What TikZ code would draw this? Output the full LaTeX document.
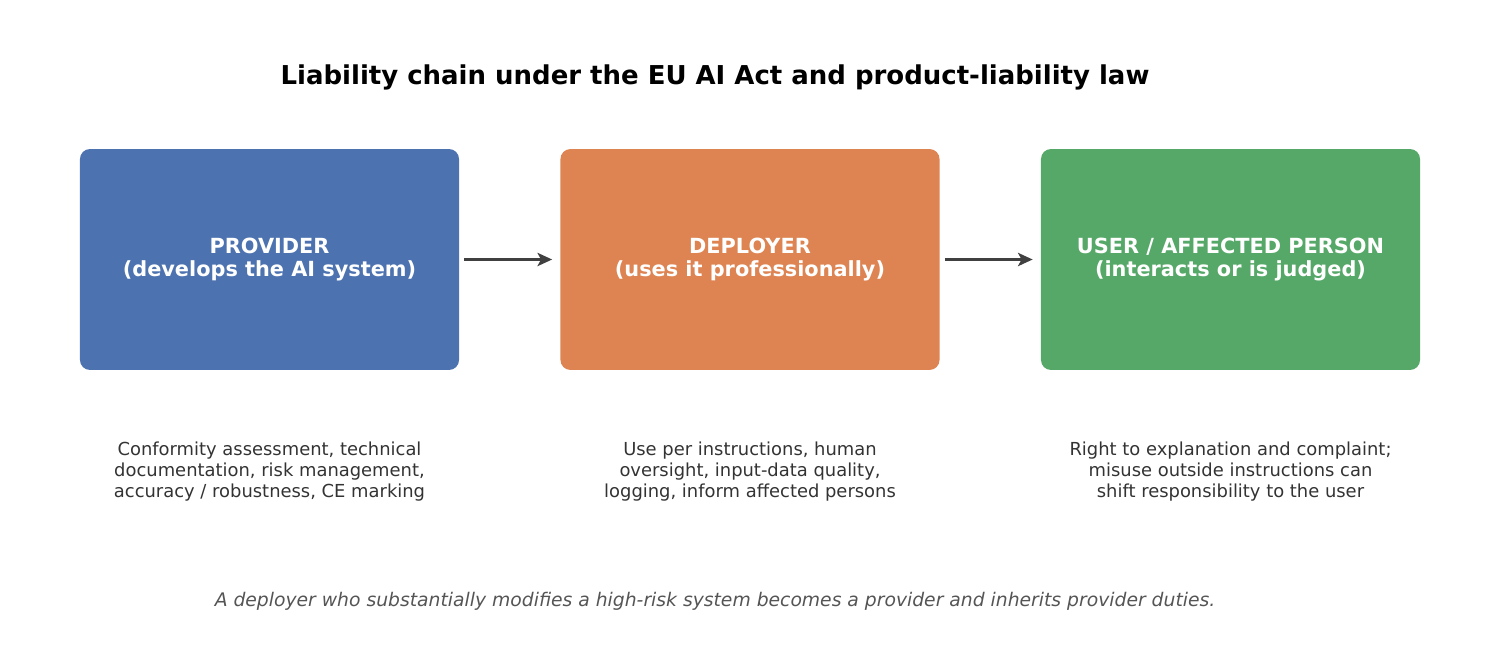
\documentclass[tikz,border=0pt]{standalone}
\usepackage{fontspec}
\setmainfont{DejaVu Sans}
\usetikzlibrary{arrows.meta}
\definecolor{provblue}{HTML}{4C72B0}
\definecolor{deplorange}{HTML}{DD8452}
\definecolor{usergreen}{HTML}{55A868}
\definecolor{arrowgray}{HTML}{404040}
\definecolor{desctext}{HTML}{333333}
\definecolor{notetext}{HTML}{555555}
\begin{document}
\begin{tikzpicture}[x=0.72bp,y=-0.72bp,
	party/.style={rounded corners=7.2bp,minimum width=272.9bp,minimum height=159.1bp,
		text=white,align=center,font=\fontsize{15bp}{16.6bp}\selectfont\bfseries},
	duty/.style={text=desctext,align=center,font=\fontsize{12.9bp}{14.8bp}\selectfont},
	pass/.style={-{Stealth[length=10.5bp,width=9.5bp,inset=2.5bp]},line width=2.4bp,color=arrowgray,
		shorten <=3.6bp,shorten >=5.8bp}]
		\useasboundingbox (0,0) rectangle (1500,660);
		\node at (715,77.5) [font=\fontsize{18.7bp}{22bp}\selectfont\bfseries] {Liability chain under the EU AI Act and product-liability law};
		\node (provider) at (269.5,259.5) [party,fill=provblue] {PROVIDER\\(develops the AI system)};
		\node (deployer) at (750,259.5)   [party,fill=deplorange] {DEPLOYER\\(uses it professionally)};
		\node (user)     at (1230.5,259.5) [party,fill=usergreen] {USER / AFFECTED PERSON\\(interacts or is judged)};
		\draw [pass] (provider)--(deployer);
		\draw [pass] (deployer)--(user);
		\node (provduty) at (269.5,471.5) [duty] {Conformity assessment, technical\\documentation, risk management,\\accuracy / robustness, CE marking};
		\node (deplduty) at (750,471.5)   [duty] {Use per instructions, human\\oversight, input-data quality,\\logging, inform affected persons};
		\node (userduty) at (1230.5,471.5) [duty] {Right to explanation and complaint;\\misuse outside instructions can\\shift responsibility to the user};
		\node (note) at (715,601.5) [text=notetext,font=\fontsize{13.5bp}{16bp}\selectfont\itshape] {A deployer who substantially modifies a high-risk system becomes a provider and inherits provider duties.};
\end{tikzpicture}
\end{document}
